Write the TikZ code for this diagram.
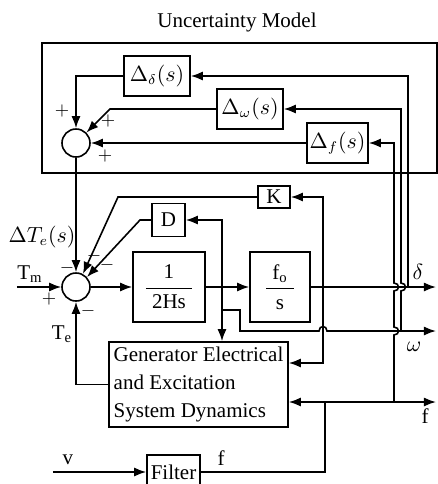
\documentclass[tikz,border=0pt]{standalone}
\usepackage{fontspec}
\usepackage{amsmath}
\setmainfont{Liberation Serif}
\usetikzlibrary{arrows.meta, positioning}

\tikzset{
  block/.style 2 args={draw, inner sep=1pt, minimum width=#1, minimum height=#2},
  sum/.style={draw, circle, minimum size=14pt, inner sep=0pt},
  sign/.style={font=\fontsize{9.5}{9.5}\selectfont, inner sep=0pt},
}

\begin{document}
\begin{tikzpicture}[x=0.5pt, y=-0.5pt, line width=0.8pt,
    >={Latex[length=6pt, width=4.5pt]}, font=\fontsize{10.5}{14}\selectfont]
        \useasboundingbox (0,0) rectangle (438,484);

        % uncertainty model
        \node (title) at (237,22) {Uncertainty Model};
        \node[block={197.5pt}{65pt}] (unc) at (239.5,108) {};
        \node[block={33pt}{20pt}] (Dd) at (157,76) {$\Delta_\delta(s)$};
        \node[block={33pt}{20pt}] (Dw) at (250,109) {$\Delta_\omega(s)$};
        \node[block={30.5pt}{20pt}] (Df) at (337.5,143) {$\Delta_f(s)$};
        \node[sum] (us) at (76,143) {};

        % plant
        \node[sum] (ms) at (76,287) {};
        \node[block={16pt}{11pt}] (K) at (274,197) {K};
        \node[block={16.5pt}{16.5pt}] (D) at (168.5,220) {D};
        \node[block={36pt}{35pt}] (int) at (169,287) {$\dfrac{\text{1}}{\;\text{2Hs}\;}$};
        \node[block={30pt}{35pt}] (fos) at (280,287) {$\dfrac{\;\text{f}_\text{o}\;}{\text{s}}$};
        \node[block={89.5pt}{42.5pt}, align=left] (gen) at (198.5,384.5)
            {Generator Electrical\\and Excitation\\System Dynamics};
        \node[block={26.5pt}{17pt}] (fil) at (173.5,472) {Filter};

        % labels and signs
        \node (lDT) at (42,237) {$\Delta T_e(s)$};
        \node (lTm) at (30,274) {$\text{T}_\text{m}$};
        \node (lTe) at (62,334) {$\text{T}_\text{e}$};
        \node (ld) at (418,272) {$\delta$};
        \node (lw) at (414,347) {$\omega$};
        \node (lf) at (425,416) {f};
        \node (lff) at (221,458) {f};
        \node (lv) at (68,460) {v};
        \node[sign] (s1) at (62,111) {$+$};
        \node[sign] (s2) at (108,121) {$+$};
        \node[sign] (s3) at (105,156) {$+$};
        \node[sign] (s4) at (67,268) {$-$};
        \node[sign] (s5) at (94,256) {$-$};
        \node[sign] (s6) at (107,265) {$-$};
        \node[sign] (s7) at (49,299) {$+$};
        \node[sign] (s8) at (88,311) {$-$};

        \coordinate (cw) at (110,109);
        \coordinate (ck) at (118,197);
        \coordinate (cd) at (140,220);
        \coordinate (tm) at (17,287);
        \coordinate (vin) at (53,472);
        \coordinate (jw) at (222,287);
        \coordinate (jw2) at (222,310);
        \coordinate (jd) at (323,287);
        \coordinate (jk) at (323,363);
        \coordinate (jf) at (325,402);
        \coordinate (jdd) at (408,287);
        \coordinate (jww) at (401,331);
        \coordinate (jff) at (394,402);
        \coordinate (dout) at (436,287);
        \coordinate (wout) at (436,331);
        \coordinate (fout) at (436,402);

        % uncertainty loop
        \draw[->] (Dd.west) -| (us.north);
        \draw[->] (Dw.west) -- (cw) -- (us.45);
        \draw[->] (Df.west) -- (us.east);
        \draw[->] (us.south) -- (ms.north);

        % main loop
        \draw[->] (tm) -- (ms.west);
        \draw[->] (ms.east) -- (int.west);
        \draw[->] (int.east) -- (fos.west);
        \draw[->] (jw) |- (D.east);
        \draw[->] (jw) -- (jw |- gen.north);
        \draw[->] (D.west) -- (cd) -- (ms.42);
        \draw[->] (K.west) -- (ck) -- (ms.62);
        \draw[->] (gen.west) -| (ms.south);
        \draw[->] (fos.east) -- (dout);
        \draw[->] (jd) |- (K.east);
        \draw[->] (jd) -- (jk) -- (jk -| gen.east);
        \draw[->] (jw2) -- ++(18,0) -- ++(0,21) -- ++(79,0)
            .. controls +(0,-6) and +(0,-6) .. ++(8,0) -- (wout);
        \draw[->] (jf) -- (jf -| gen.east);
        \draw[->] (jf) -- (fout);
        \draw (fil.east) -| (jf);
        \draw[->] (vin) -- (fil.west);

        % feedback to the uncertainty blocks
        \draw[->] (jdd) |- (Dd.east);
        \draw[->] (jww) -- ++(0,-40) .. controls +(6,0) and +(6,0) .. ++(0,-8)
            |- (Dw.east);
        \draw[->] (jff) -- ++(0,-67) .. controls +(6,0) and +(6,0) .. ++(0,-8)
            -- ++(0,-36) .. controls +(6,0) and +(6,0) .. ++(0,-8) |- (Df.east);

    \end{tikzpicture}
\end{document}
